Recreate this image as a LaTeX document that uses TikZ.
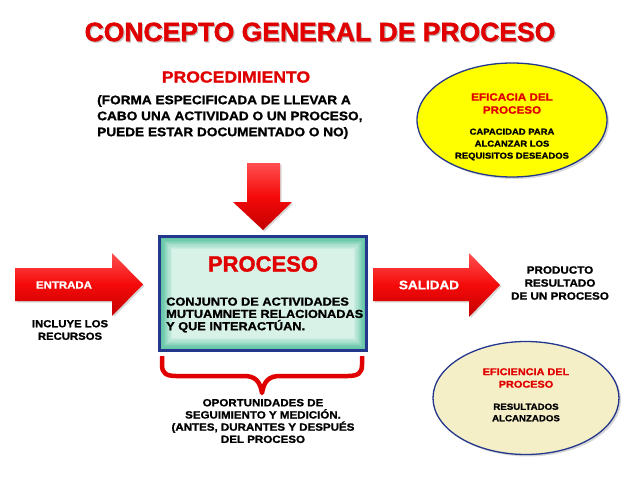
\documentclass[tikz,border=0pt]{standalone}
\usepackage{fontspec}
\setmainfont{Liberation Sans}
\newfontfamily\widefont{Liberation Sans}[FakeStretch=1.1, FakeBold=1.2]
\newfontfamily\titlefont{Liberation Sans}[FakeBold=1.5]
\usetikzlibrary{shapes.geometric,shadows}
\definecolor{tred}{RGB}{225,0,0}
\definecolor{arrowtop}{RGB}{255,80,80}
\definecolor{arrowmid}{RGB}{245,10,10}
\definecolor{arrowbot}{RGB}{195,0,0}
\definecolor{edgeblue}{RGB}{35,55,140}
\definecolor{tealedge}{RGB}{85,192,158}
\definecolor{teallight}{RGB}{216,242,232}
\definecolor{ylw}{RGB}{255,255,0}
\definecolor{beige}{RGB}{245,239,200}
\newcommand\fsz[2]{\fontsize{#1}{#2}\selectfont}
\tikzset{
  redarrow/.style={top color=arrowtop, bottom color=arrowbot, middle color=arrowmid, draw=none,
    drop shadow={shadow xshift=1.5pt, shadow yshift=-1.5pt, opacity=0.3}},
  lbl/.style={inner sep=0pt, align=center},
  oval/.style={ellipse, draw=edgeblue, line width=1.3pt, inner sep=0pt,
    drop shadow={shadow xshift=2pt, shadow yshift=-2pt, opacity=0.3}},
  bracestyle/.style={draw=tred, line width=4.5pt, line join=round}
}
\begin{document}
\begin{tikzpicture}[x=1pt,y=-1pt]
\fill[white] (0,0) rectangle (638,479);
\useasboundingbox (0,0) rectangle (638,479);

% title
\node[lbl, text=black!35, opacity=0.6, font=\titlefont\bfseries\fsz{26.5}{28}] (titleshadow) at (321.2,33.2) {CONCEPTO GENERAL DE PROCESO};
\node[lbl, text=tred, font=\titlefont\bfseries\fsz{26.5}{28}] (title) at (320,32) {CONCEPTO GENERAL DE PROCESO};

% procedimiento
\node[lbl, text=tred, font=\widefont\bfseries\fsz{16}{18}] (procedimiento) at (236,77) {PROCEDIMIENTO};
\node[lbl, align=left, anchor=west, font=\widefont\bfseries\fsz{12.4}{16}] (procdesc) at (97,117)
  {(FORMA ESPECIFICADA DE LLEVAR A\\CABO UNA ACTIVIDAD O UN PROCESO,\\PUEDE ESTAR DOCUMENTADO O NO)};

% eficacia ellipse
\node[oval, fill=ylw, minimum width=190pt, minimum height=114pt] (eficacia) at (512,120) {};
\node[lbl, text=tred, font=\widefont\bfseries\fsz{10.6}{13}] (eficaciat) at (512,103.5) {EFICACIA DEL\\PROCESO};
\node[lbl, font=\widefont\bfseries\fsz{8.6}{12}] (eficaciad) at (512,144.5) {CAPACIDAD PARA\\ALCANZAR LOS\\REQUISITOS DESEADOS};

% down arrow
\path[redarrow] (247,163) -- (280,163) -- (280,202) -- (292,202) -- (263,230) -- (233,202) -- (247,202) -- cycle;

% process box
\node[draw=edgeblue, line width=1.8pt, fill=tealedge, minimum width=206pt, minimum height=113pt, inner sep=0pt,
  drop shadow={shadow xshift=2pt, shadow yshift=-2pt, opacity=0.3}] (proceso) at (263,293.5) {};
\foreach \i in {1,...,10} {
  \pgfmathsetmacro\p{\i*10}
  \fill[teallight!\p!tealedge] ({160+\i*1.2},{237+\i*1.2}) rectangle ({366-\i*1.2},{350-\i*1.2});
}
\draw[edgeblue, line width=1.8pt] (proceso.north west) rectangle (proceso.south east);
\node[lbl, text=tred, font=\titlefont\bfseries\fsz{22}{24}] (procesot) at (263,264) {PROCESO};
\node[lbl, align=left, anchor=west, font=\widefont\bfseries\fsz{11.6}{12.3}] (procesod) at (166,315)
  {CONJUNTO DE ACTIVIDADES\\MUTUAMNETE RELACIONADAS\\Y QUE INTERACTÚAN.};

% entrada arrow
\path[redarrow] (15,268) -- (112,268) -- (112,253) -- (143,284.5) -- (112,316) -- (112,301) -- (15,301) -- cycle;
\node[lbl, text=white, font=\widefont\bfseries\fsz{10.4}{12}] (entrada) at (64,285) {ENTRADA};
\node[lbl, font=\widefont\bfseries\fsz{10.3}{12.5}] (recursos) at (70,330) {INCLUYE LOS\\RECURSOS};

% salida arrow
\path[redarrow] (373,268) -- (469,268) -- (469,253) -- (500,285) -- (469,317) -- (469,301) -- (373,301) -- cycle;
\node[lbl, text=white, font=\widefont\bfseries\fsz{12.3}{14}] (salida) at (429,285) {SALIDAD};
\node[lbl, font=\widefont\bfseries\fsz{10.6}{13}] (producto) at (560,283) {PRODUCTO\\RESULTADO\\DE UN PROCESO};

% brace
\draw[bracestyle] (162,356) -- (162,365) .. controls (162,373) and (166,376) .. (176,376) -- (244,376)
  .. controls (255,376) and (260,381) .. (262,393) .. controls (264,381) and (269,376) .. (280,376)
  -- (348,376) .. controls (358,376) and (362,373) .. (362,365) -- (362,356);
\node[lbl, font=\widefont\bfseries\fsz{10.5}{12.2}] (seguimiento) at (263,421)
  {OPORTUNIDADES DE\\SEGUIMIENTO Y MEDICIÓN.\\(ANTES, DURANTES Y DESPUÉS\\DEL PROCESO};

% eficiencia ellipse
\node[oval, fill=beige, minimum width=186pt, minimum height=113pt] (eficiencia) at (526,398) {};
\node[lbl, text=tred, font=\widefont\bfseries\fsz{9.9}{12.5}] (eficienciat) at (526,378) {EFICIENCIA DEL\\PROCESO};
\node[lbl, font=\widefont\bfseries\fsz{8.8}{11.5}] (eficienciad) at (526,412.5) {RESULTADOS\\ALCANZADOS};
\end{tikzpicture}
\end{document}
